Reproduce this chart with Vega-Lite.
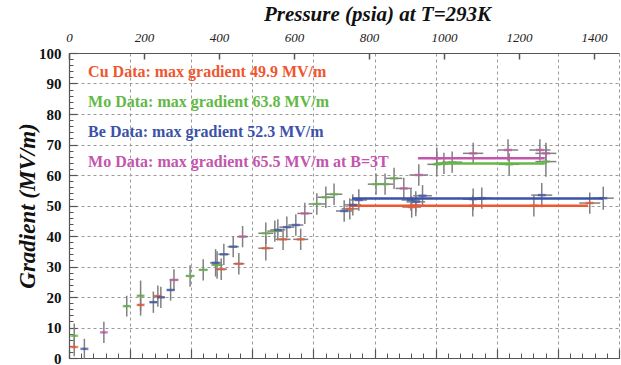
{
  "$schema": "https://vega.github.io/schema/vega-lite/v6.json",
  "width": 550,
  "height": 305,
  "autosize": "none",
  "padding": {"left": 69, "top": 53, "right": 2, "bottom": 7},
  "background": "white",
  "config": {
    "view": {"stroke": null},
    "axis": {"labelFont": "Liberation Serif", "titleFont": "Liberation Serif", "domainColor": "#555", "tickColor": "#555", "gridColor": "#9a9a9a", "gridDash": [3, 3], "labelFlush": false}
  },
  "datasets": {
    "pts": [
      {"p": 14, "g": 3.6, "pe": 5, "ge": 3, "s": "Cu"},
      {"p": 191, "g": 17.4, "pe": 8, "ge": 3.5, "s": "Cu"},
      {"p": 237, "g": 20.3, "pe": 10, "ge": 3.5, "s": "Cu"},
      {"p": 406, "g": 29.1, "pe": 15, "ge": 3.5, "s": "Cu"},
      {"p": 453, "g": 30.9, "pe": 15, "ge": 3.5, "s": "Cu"},
      {"p": 525, "g": 36.0, "pe": 20, "ge": 4, "s": "Cu"},
      {"p": 571, "g": 38.9, "pe": 20, "ge": 3.5, "s": "Cu"},
      {"p": 618, "g": 38.9, "pe": 20, "ge": 3.5, "s": "Cu"},
      {"p": 749, "g": 48.9, "pe": 22, "ge": 3.5, "s": "Cu"},
      {"p": 914, "g": 49.5, "pe": 25, "ge": 3.5, "s": "Cu"},
      {"p": 925, "g": 50.0, "pe": 25, "ge": 3.5, "s": "Cu"},
      {"p": 1077, "g": 49.9, "pe": 27, "ge": 3.5, "s": "Cu"},
      {"p": 1240, "g": 49.9, "pe": 27, "ge": 3.5, "s": "Cu"},
      {"p": 1389, "g": 50.8, "pe": 28, "ge": 3.5, "s": "Cu"},
      {"p": 14, "g": 7.3, "pe": 5, "ge": 4, "s": "Mo"},
      {"p": 154, "g": 17.0, "pe": 8, "ge": 3.4, "s": "Mo"},
      {"p": 191, "g": 20.4, "pe": 8, "ge": 5, "s": "Mo"},
      {"p": 323, "g": 26.9, "pe": 12, "ge": 3.5, "s": "Mo"},
      {"p": 358, "g": 28.9, "pe": 12, "ge": 3.5, "s": "Mo"},
      {"p": 395, "g": 30.5, "pe": 15, "ge": 4.5, "s": "Mo"},
      {"p": 525, "g": 40.9, "pe": 20, "ge": 3.5, "s": "Mo"},
      {"p": 549, "g": 41.6, "pe": 20, "ge": 3.5, "s": "Mo"},
      {"p": 661, "g": 50.5, "pe": 22, "ge": 3.5, "s": "Mo"},
      {"p": 685, "g": 52.7, "pe": 22, "ge": 3.5, "s": "Mo"},
      {"p": 707, "g": 53.7, "pe": 22, "ge": 3.5, "s": "Mo"},
      {"p": 819, "g": 57.0, "pe": 22, "ge": 3.5, "s": "Mo"},
      {"p": 843, "g": 57.0, "pe": 22, "ge": 3.5, "s": "Mo"},
      {"p": 867, "g": 58.9, "pe": 22, "ge": 3.5, "s": "Mo"},
      {"p": 981, "g": 63.5, "pe": 25, "ge": 4, "s": "Mo"},
      {"p": 1000, "g": 63.8, "pe": 25, "ge": 3.5, "s": "Mo"},
      {"p": 1022, "g": 64.2, "pe": 27, "ge": 3.5, "s": "Mo"},
      {"p": 1174, "g": 63.5, "pe": 27, "ge": 3.6, "s": "Mo"},
      {"p": 1272, "g": 64.4, "pe": 28, "ge": 5, "s": "Mo"},
      {"p": 41, "g": 3.0, "pe": 5, "ge": 3.3, "s": "Be"},
      {"p": 225, "g": 18.3, "pe": 10, "ge": 3.5, "s": "Be"},
      {"p": 245, "g": 19.9, "pe": 10, "ge": 3.5, "s": "Be"},
      {"p": 271, "g": 22.3, "pe": 10, "ge": 3.5, "s": "Be"},
      {"p": 391, "g": 31.2, "pe": 15, "ge": 4.5, "s": "Be"},
      {"p": 413, "g": 34.0, "pe": 15, "ge": 3.5, "s": "Be"},
      {"p": 438, "g": 36.5, "pe": 15, "ge": 3.5, "s": "Be"},
      {"p": 557, "g": 42.0, "pe": 20, "ge": 3.5, "s": "Be"},
      {"p": 581, "g": 42.9, "pe": 20, "ge": 3.5, "s": "Be"},
      {"p": 605, "g": 43.6, "pe": 20, "ge": 3.5, "s": "Be"},
      {"p": 734, "g": 48.2, "pe": 22, "ge": 3.5, "s": "Be"},
      {"p": 757, "g": 50.2, "pe": 22, "ge": 3.5, "s": "Be"},
      {"p": 773, "g": 51.8, "pe": 22, "ge": 3.5, "s": "Be"},
      {"p": 912, "g": 51.8, "pe": 25, "ge": 3.5, "s": "Be"},
      {"p": 925, "g": 51.2, "pe": 25, "ge": 3.5, "s": "Be"},
      {"p": 943, "g": 53.2, "pe": 25, "ge": 3.5, "s": "Be"},
      {"p": 1078, "g": 52.1, "pe": 27, "ge": 3.5, "s": "Be"},
      {"p": 1101, "g": 52.4, "pe": 27, "ge": 3.5, "s": "Be"},
      {"p": 1261, "g": 53.4, "pe": 28, "ge": 4, "s": "Be"},
      {"p": 1425, "g": 52.4, "pe": 28, "ge": 3.8, "s": "Be"},
      {"p": 93, "g": 8.4, "pe": 5, "ge": 3.5, "s": "MoB"},
      {"p": 280, "g": 25.6, "pe": 12, "ge": 3.5, "s": "MoB"},
      {"p": 463, "g": 39.8, "pe": 15, "ge": 3.5, "s": "MoB"},
      {"p": 629, "g": 47.4, "pe": 20, "ge": 3.5, "s": "MoB"},
      {"p": 893, "g": 55.6, "pe": 22, "ge": 3.5, "s": "MoB"},
      {"p": 933, "g": 60.0, "pe": 25, "ge": 3.5, "s": "MoB"},
      {"p": 981, "g": 65.5, "pe": 25, "ge": 3.5, "s": "MoB"},
      {"p": 1078, "g": 67.1, "pe": 27, "ge": 3.5, "s": "MoB"},
      {"p": 1171, "g": 68.2, "pe": 27, "ge": 3.5, "s": "MoB"},
      {"p": 1256, "g": 68.2, "pe": 28, "ge": 3.5, "s": "MoB"},
      {"p": 1272, "g": 67.1, "pe": 28, "ge": 3.5, "s": "MoB"}
    ],
    "lines": [
      {"p1": 747, "p2": 1384, "g": 49.9, "s": "Cu"},
      {"p1": 755, "p2": 1424, "g": 52.3, "s": "Be"},
      {"p1": 981, "p2": 1269, "g": 63.8, "s": "Mo"},
      {"p1": 931, "p2": 1269, "g": 65.5, "s": "MoB"}
    ],
    "labels": [
      {"p": 51, "g": 93.7, "s": "Cu", "t": "Cu Data: max gradient 49.9 MV/m"},
      {"p": 51, "g": 83.8, "s": "Mo", "t": "Mo Data: max gradient 63.8 MV/m"},
      {"p": 51, "g": 74.2, "s": "Be", "t": "Be Data: max gradient 52.3 MV/m"},
      {"p": 51, "g": 64.4, "s": "MoB", "t": "Mo Data: max gradient 65.5 MV/m at B=3T"}
    ]
  },
  "resolve": {"axis": {"x": "independent", "y": "independent"}},
  "layer": [
    {
      "data": {"name": "pts"},
      "mark": {"type": "errorbar", "color": "#808080", "thickness": 1.5},
      "encoding": {
        "x": {"field": "p", "type": "quantitative", "scale": {"domain": [0, 1467], "nice": false, "zero": false},
          "axis": {"orient": "top", "values": [0, 200, 400, 600, 800, 1000, 1200, 1400], "format": "d", "title": "Pressure (psia) at T=293K",
            "titleFontSize": 21, "titleFontWeight": "bold", "titleFontStyle": "italic", "titleX": 308, "titleY": -39,
            "titleAlign": "center", "titleBaseline": "middle", "titleColor": "#111",
            "labelFontStyle": "italic", "labelFontSize": 13, "labelColor": "#222", "tickSize": -6, "tickWidth": 1.5,
            "labelPadding": 15, "grid": false, "domainWidth": 1.2}},
        "xError": {"field": "pe"},
        "y": {"field": "g", "type": "quantitative", "scale": {"domain": [0, 100], "nice": false},
          "axis": {"orient": "left", "values": [0, 10, 20, 30, 40, 50, 60, 70, 80, 90, 100], "title": "Gradient (MV/m)",
            "titleFontSize": 23, "titleFontWeight": "bold", "titleFontStyle": "italic", "titleX": -42, "titleBaseline": "middle",
            "titleColor": "#111", "labelFontSize": 15, "labelFontWeight": "bold", "labelColor": "#111",
            "tickSize": -8, "tickWidth": 1.2, "labelPadding": 16, "grid": true, "domainWidth": 1.2}}
      }
    },
    {
      "data": {"name": "pts"},
      "mark": {"type": "errorbar", "color": "#808080", "thickness": 1.5},
      "encoding": {
        "y": {"field": "g", "type": "quantitative", "scale": {"domain": [0, 100], "nice": false},
          "axis": {"orient": "left", "values": [0,2,4,6,8,10,12,14,16,18,20,22,24,26,28,30,32,34,36,38,40,42,44,46,48,50,52,54,56,58,60,62,64,66,68,70,72,74,76,78,80,82,84,86,88,90,92,94,96,98,100],
            "labels": false, "title": null, "tickSize": -4, "grid": false, "domain": false}},
        "yError": {"field": "ge"},
        "x": {"field": "p", "type": "quantitative", "scale": {"domain": [0, 1467], "nice": false, "zero": false},
          "axis": {"orient": "bottom", "values": [0, 163, 326, 489, 652, 815, 978, 1141, 1304, 1467],
            "labels": false, "title": null, "tickSize": -9, "tickWidth": 1.2, "grid": true, "domainWidth": 1.2}}
      }
    },
    {
      "data": {"name": "lines"},
      "mark": {"type": "rule", "strokeWidth": 2.5},
      "encoding": {
        "x": {"field": "p1", "type": "quantitative", "scale": {"domain": [0, 1467], "nice": false, "zero": false},
          "axis": {"orient": "bottom", "values": [0,32.6,65.2,97.8,130.4,163,195.6,228.2,260.8,293.4,326,358.6,391.2,423.8,456.4,489,521.6,554.2,586.8,619.4,652,684.6,717.2,749.8,782.4,815,847.6,880.2,912.8,945.4,978,1010.6,1043.2,1075.8,1108.4,1141,1173.6,1206.2,1238.8,1271.4,1304,1336.6,1369.2,1401.8,1434.4,1467],
            "labels": false, "title": null, "tickSize": -5, "grid": false, "domain": false}},
        "x2": {"field": "p2"},
        "y": {"field": "g", "type": "quantitative", "scale": {"domain": [0, 100], "nice": false}, "axis": null},
        "color": {"field": "s", "type": "nominal", "legend": null,
          "scale": {"domain": ["Cu", "Mo", "Be", "MoB"], "range": ["#f0562f", "#62b944", "#3c51aa", "#c455ac"]}}
      }
    },
    {
      "data": {"name": "pts"},
      "mark": {"type": "tick", "orient": "horizontal", "size": 8, "thickness": 2.5},
      "encoding": {
        "x": {"field": "p", "type": "quantitative", "scale": {"domain": [0, 1467], "nice": false, "zero": false}, "axis": null},
        "y": {"field": "g", "type": "quantitative", "scale": {"domain": [0, 100], "nice": false}, "axis": null},
        "color": {"field": "s", "type": "nominal", "legend": null}
      }
    },
    {
      "data": {"name": "labels"},
      "mark": {"type": "text", "align": "left", "baseline": "middle", "font": "Liberation Serif", "fontWeight": "bold", "fontSize": 16},
      "encoding": {
        "x": {"field": "p", "type": "quantitative", "scale": {"domain": [0, 1467], "nice": false, "zero": false}, "axis": null},
        "y": {"field": "g", "type": "quantitative", "scale": {"domain": [0, 100], "nice": false}, "axis": null},
        "text": {"field": "t"},
        "color": {"field": "s", "type": "nominal", "legend": null}
      }
    }
  ]
}
